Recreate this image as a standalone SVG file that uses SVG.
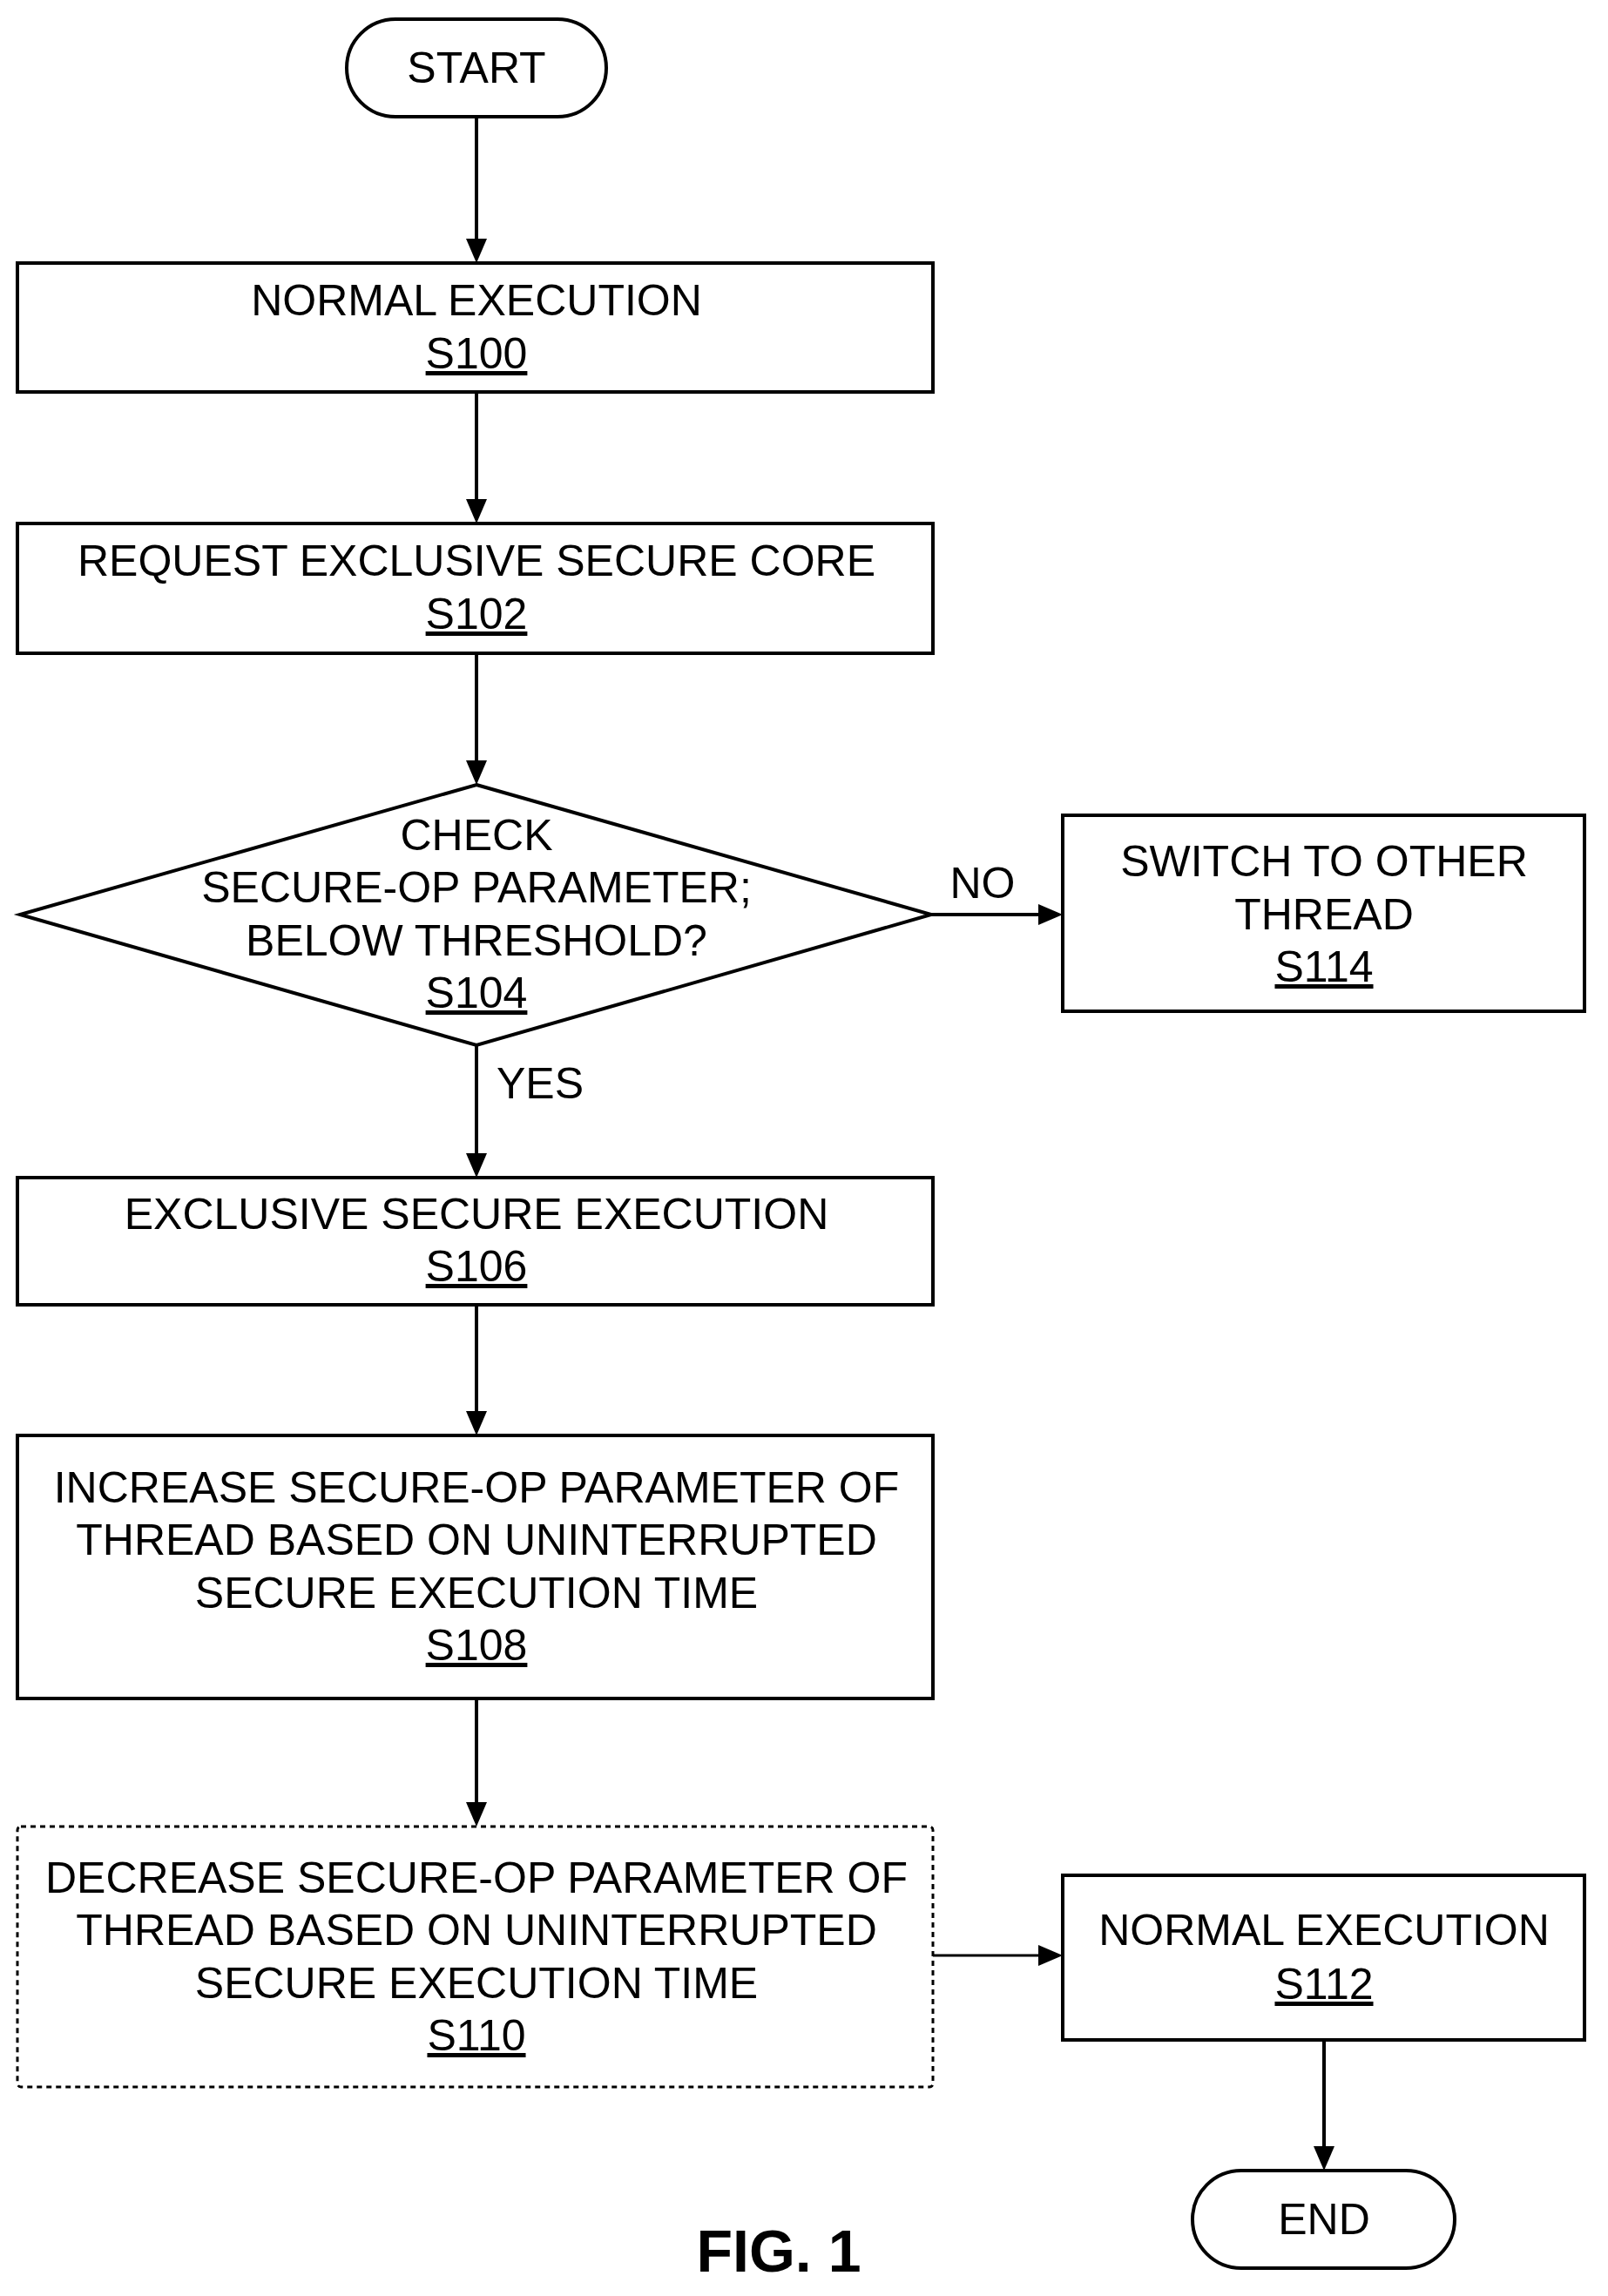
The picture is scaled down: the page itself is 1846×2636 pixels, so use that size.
<svg xmlns="http://www.w3.org/2000/svg" width="1846" height="2636" viewBox="0 0 1846 2636">
<style>
.s{fill:#fff;stroke:#000;stroke-width:4}
.d{fill:#fff;stroke:#000;stroke-width:3;stroke-dasharray:6 5}
text{font-family:"Liberation Sans",Arial,sans-serif;font-size:50px;text-anchor:middle;fill:#000}
.u{text-decoration:underline}
.c{stroke:#000;stroke-width:4;fill:none}
</style>
<rect width="1846" height="2636" fill="#fff"/>
<g id="connectors">
<path class="c" d="M547,134 V280"/><path d="M535,274 L547,302 L559,274 z"/>
<path class="c" d="M547,450 V580"/><path d="M535,573 L547,601 L559,573 z"/>
<path class="c" d="M547,750 V880"/><path d="M535,873 L547,901 L559,873 z"/>
<path class="c" d="M1069,1050 H1200"/><path d="M1192,1038 L1220,1050 L1192,1062 z"/>
<path class="c" d="M547,1200 V1330"/><path d="M535,1324 L547,1352 L559,1324 z"/>
<path class="c" d="M547,1498 V1630"/><path d="M535,1620 L547,1648 L559,1620 z"/>
<path class="c" d="M547,1950 V2080"/><path d="M535,2069 L547,2097 L559,2069 z"/>
<path class="c" d="M1071,2245 H1200" style="stroke-width:3"/><path d="M1192,2233 L1220,2245 L1192,2257 z"/>
<path class="c" d="M1520,2342 V2470"/><path d="M1508,2464 L1520,2492 L1532,2464 z"/>
<text x="1128" y="1031">NO</text>
<text x="620" y="1261">YES</text>
</g>
<g id="start"><rect class="s" x="398" y="22" width="298" height="112" rx="56"/><text x="547" y="95">START</text></g>
<g id="s100"><rect class="s" x="20" y="302" width="1051" height="148"/><text x="547" y="362">NORMAL EXECUTION</text><text class="u" x="547" y="423">S100</text></g>
<g id="s102"><rect class="s" x="20" y="601" width="1051" height="149"/><text x="547" y="661">REQUEST EXCLUSIVE SECURE CORE</text><text class="u" x="547" y="722">S102</text></g>
<g id="s104"><polygon class="s" points="547,901 1069,1050 547,1200 23,1050"/><text x="547" y="976">CHECK</text><text x="547" y="1036">SECURE-OP PARAMETER;</text><text x="547" y="1097">BELOW THRESHOLD?</text><text class="u" x="547" y="1157">S104</text></g>
<g id="s114"><rect class="s" x="1220" y="936" width="599" height="225"/><text x="1520" y="1006">SWITCH TO OTHER</text><text x="1520" y="1067">THREAD</text><text class="u" x="1520" y="1127">S114</text></g>
<g id="s106"><rect class="s" x="20" y="1352" width="1051" height="146"/><text x="547" y="1411">EXCLUSIVE SECURE EXECUTION</text><text class="u" x="547" y="1471">S106</text></g>
<g id="s108"><rect class="s" x="20" y="1648" width="1051" height="302"/><text x="547" y="1725">INCREASE SECURE-OP PARAMETER OF</text><text x="547" y="1785">THREAD BASED ON UNINTERRUPTED</text><text x="547" y="1846">SECURE EXECUTION TIME</text><text class="u" x="547" y="1906">S108</text></g>
<g id="s110"><rect class="d" x="20" y="2097" width="1051" height="299" rx="4"/><text x="547" y="2173">DECREASE SECURE-OP PARAMETER OF</text><text x="547" y="2233">THREAD BASED ON UNINTERRUPTED</text><text x="547" y="2294">SECURE EXECUTION TIME</text><text class="u" x="547" y="2354">S110</text></g>
<g id="s112"><rect class="s" x="1220" y="2153" width="599" height="189"/><text x="1520" y="2233">NORMAL EXECUTION</text><text class="u" x="1520" y="2295">S112</text></g>
<g id="end"><rect class="s" x="1369" y="2492" width="301" height="112" rx="56"/><text x="1520" y="2565">END</text></g>
<text x="894" y="2608" style="font-size:68px;font-weight:bold">FIG. 1</text>
</svg>
